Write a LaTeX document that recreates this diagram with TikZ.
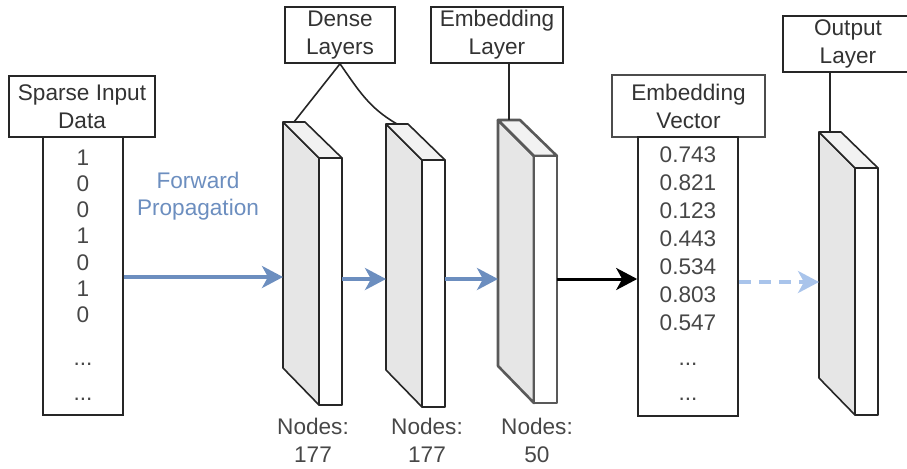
\documentclass[tikz,border=0pt]{standalone}
\usepackage{fontspec}
\setmainfont{Liberation Sans}
\usetikzlibrary{arrows.meta}

\definecolor{flowblue}{HTML}{6C8EBF}
\definecolor{paleblue}{HTML}{A9C4EB}
\definecolor{sidegray}{HTML}{E6E6E6}
\definecolor{topgray}{HTML}{F2F2F2}
\definecolor{titletext}{HTML}{333333}

\tikzset{
  titlebox/.style={draw=black!85, line width=0.8pt, fill=white, align=center,
    inner sep=0pt, text=titletext, font=\fontsize{11.3}{14}\selectfont},
  column/.style={draw=black!85, line width=0.8pt, inner sep=0pt},
  value/.style={anchor=base, inner sep=0pt, text=black!72, font=\fontsize{11.3}{14}\selectfont},
  nodecount/.style={anchor=north, align=center, inner sep=0pt, text=black!72,
    font=\fontsize{11.3}{14}\selectfont},
  link/.style={draw=black!85, line width=0.8pt},
  flow/.style={draw=flowblue, line width=1.8pt, -{Stealth[length=10.5pt,width=11pt,inset=3pt]}},
  push/.style={draw=black, line width=1.5pt, -{Stealth[length=10.5pt,width=11pt,inset=3pt]}},
  ghost/.style={draw=paleblue, line width=1.8pt, dash pattern=on 6pt off 4pt,
    -{Stealth[length=10.5pt,width=11pt,inset=3pt]}}
}

% One layer drawn as a slab: side face, top face, front face
\newcommand{\layerblock}[5][black!85]{%
  \begin{scope}[shift={(#3,#4)}, color=#1, line width=#5, line join=round]
    \filldraw[fill=sidegray] (0,0) -- (36,36) -- (36,283) -- (0,246) -- cycle;
    \filldraw[fill=topgray] (0,0) -- (22,0) -- (59,36) -- (36,36) -- cycle;
    \filldraw[fill=white] (36,36) rectangle (59,283);
    \coordinate (#2-top) at (11,0);
    \coordinate (#2-side) at (0,0);
    \coordinate (#2-front) at (59,36);
  \end{scope}}

\begin{document}
\begin{tikzpicture}[x=0.5pt, y=-0.5pt]
    % Fix the frame of the picture
    \clip (0,0) rectangle (907,468);
    \coordinate (row1) at (0,277);
    \coordinate (row2) at (0,279);
    \coordinate (row3) at (0,282);

    % Draw the sparse input column
    \node[titlebox, minimum width=73pt, minimum height=30.5pt] (sparse) at (82,106.5) {Sparse Input\\Data};
    \node[column, minimum width=40pt, minimum height=139pt] (input) at (83,276) {};
    \foreach \v [count=\i from 0] in {1,0,0,1,0,1,0}
        \node[value] (input-\i) at (83,165+26.3*\i) {\v};
    \node[value] (input-dots1) at (83,365) {...};
    \node[value] (input-dots2) at (83,400) {...};

    \node[text=flowblue, align=center, inner sep=0pt, font=\fontsize{11.3}{13.5}\selectfont] (fwd) at (198,196) {Forward\\Propagation};

    % Draw the layers
    \layerblock{b1}{283}{122}{0.8pt}
    \layerblock{b2}{386}{124}{0.8pt}
    \layerblock[black!65]{b3}{498}{120}{1.3pt}
    \layerblock{b4}{819}{132}{0.8pt}

    % Place the layer titles
    \node[titlebox, minimum width=55pt, minimum height=28pt] (dense) at (340,35) {Dense\\Layers};
    \node[titlebox, minimum width=66pt, minimum height=28pt] (elayer) at (497,35) {Embedding\\Layer};
    \node[titlebox, minimum width=65pt, minimum height=28pt] (olayer) at (848,44) {Output\\Layer};
    \draw[link] (dense.south) -- (b1-top);
    \draw[link] (dense.south) to[out=-55, in=150] (b2-top);
    \draw[link] (elayer.south -| b3-top) -- (b3-top);
    \draw[link] (olayer.south -| b4-top) -- (b4-top);

    % Place the node counts
    \node[nodecount] (n1) at (313,418) {Nodes:\\177};
    \node[nodecount] (n2) at (427,418) {Nodes:\\177};
    \node[nodecount] (n3) at (537,418) {Nodes:\\50};

    % Draw the embedding vector column
    \node[titlebox, draw=black!70, line width=1.2pt, minimum width=76.5pt, minimum height=31pt] (evec) at (688.5,106) {Embedding\\Vector};
    \node[column, minimum width=50pt, minimum height=139.5pt] (emb) at (688,276.5) {};
    \foreach \v [count=\i from 0] in {0.743,0.821,0.123,0.443,0.534,0.803,0.547}
        \node[value] (emb-\i) at (688,162+28*\i) {\v};
    \node[value] (emb-dots1) at (688,365) {...};
    \node[value] (emb-dots2) at (688,400) {...};

    % Draw the arrows
    \draw[flow] (input.east |- row1) -- (b1-side |- row1);
    \draw[flow] (b1-front |- row2) -- (b2-side |- row2);
    \draw[flow] (b2-front |- row2) -- (b3-side |- row2);
    \draw[push] (b3-front |- row2) -- (emb.west |- row2);
    \draw[ghost] (emb.east |- row3) -- (b4-side |- row3);

\end{tikzpicture}
\end{document}
